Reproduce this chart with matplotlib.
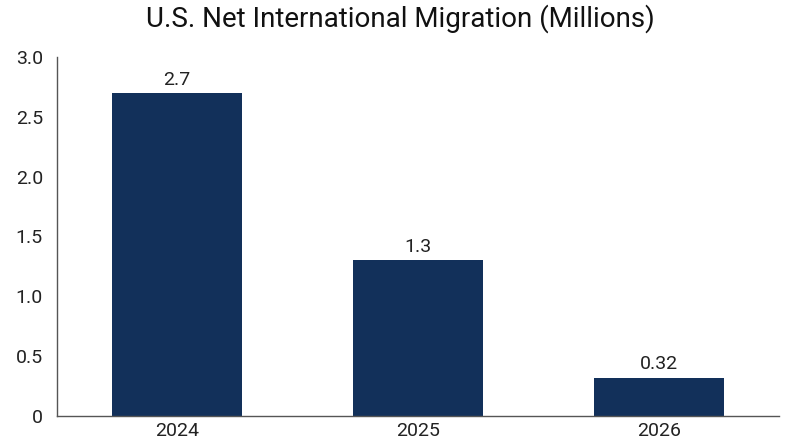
import matplotlib
matplotlib.use("Agg")
import matplotlib.pyplot as plt
from matplotlib.ticker import FuncFormatter

categories = ["2024", "2025", "2026"]
values = [2.7, 1.3, 0.32]
labels = ["2.7", "1.3", "0.32"]
yticks = [0, 0.5, 1.0, 1.5, 2.0, 2.5, 3.0]

plt.rcParams['font.family'] = ['Roboto', 'DejaVu Sans']

fig = plt.figure(figsize=(8, 4.47), dpi=100)
ax = fig.add_axes([0.071, 0.0694, 0.903, 0.8031])

x = list(range(len(categories)))
bars = ax.bar(x, values, width=0.54, color="#12305A")
for xi, v, lab in zip(x, values, labels):
    ax.text(xi, v + 0.035, lab, ha="center", va="bottom", fontsize=14, color="#222222")

ax.set_xlim(-0.5, 2.5)
ax.set_ylim(0, 3.0)
ax.set_xticks(x)
ax.set_xticklabels(categories)
ax.set_yticks(yticks)
ax.yaxis.set_major_formatter(FuncFormatter(lambda v, p: "0" if v == 0 else f"{v:.1f}"))
ax.tick_params(axis="both", length=0, labelsize=14, colors="#222222")
ax.tick_params(axis="y", pad=10)
ax.tick_params(axis="x", pad=4)
for s in ["top", "right"]:
    ax.spines[s].set_visible(False)
for s in ["left", "bottom"]:
    ax.spines[s].set_color("#555555")
    ax.spines[s].set_linewidth(1.0)

fig.suptitle("U.S. Net International Migration (Millions)", x=0.5, y=0.99, fontsize=20, color="#111111", va="top")

fig.savefig("out.png", dpi=100)
